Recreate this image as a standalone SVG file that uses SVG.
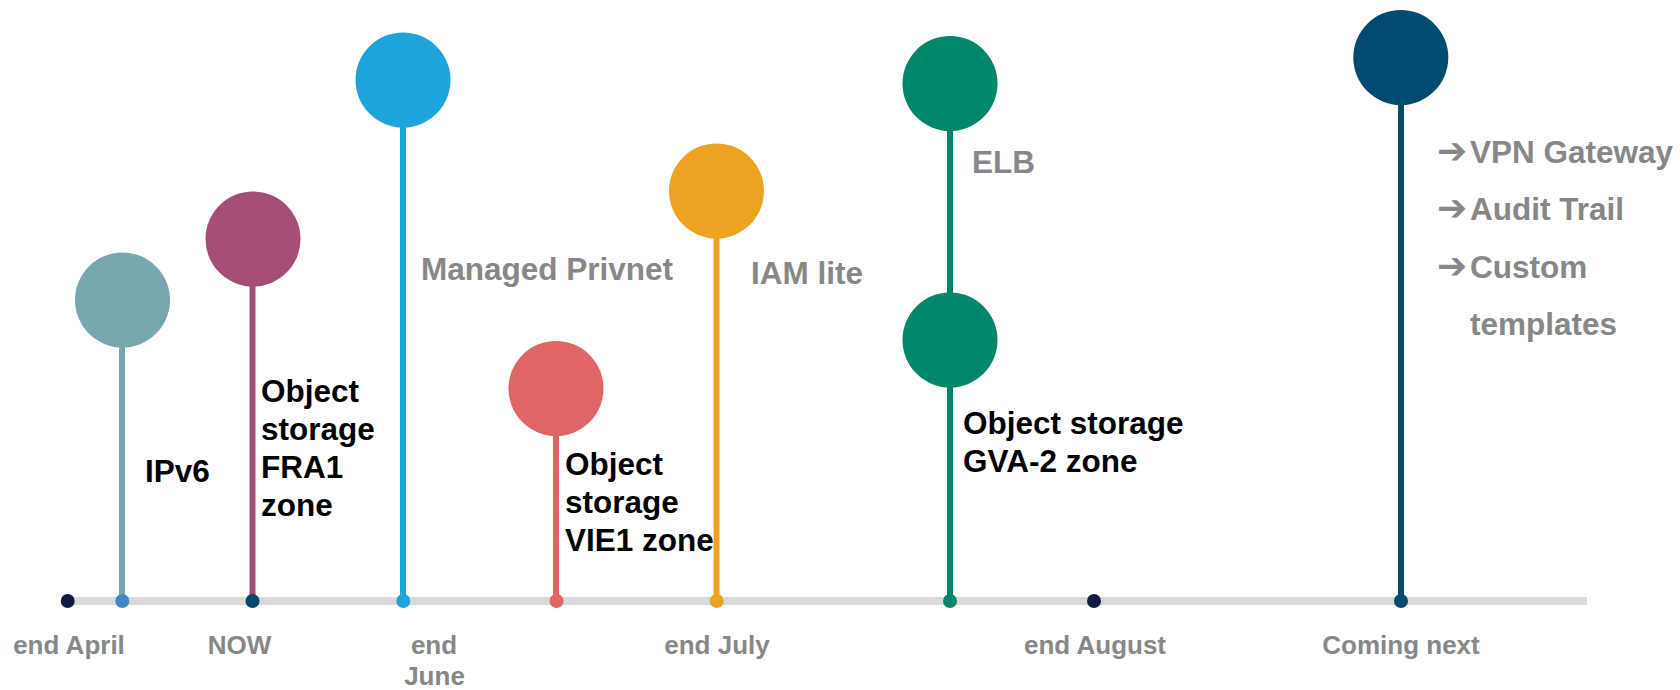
<svg xmlns="http://www.w3.org/2000/svg" width="1680" height="690" viewBox="0 0 1680 690">
<style>
.lbl{font-family:"Liberation Sans",Arial,sans-serif;font-weight:bold;font-size:31.5px;fill:#000}
.gry{font-family:"Liberation Sans",Arial,sans-serif;font-weight:bold;font-size:31.5px;fill:#878787}
.axis{font-family:"Liberation Sans",Arial,sans-serif;font-weight:bold;font-size:26px;fill:#878787;text-anchor:middle}
.arr{font-family:"DejaVu Sans",sans-serif;font-weight:bold;font-size:36px}
.stem{stroke-width:6;fill:none}
</style>
<rect width="1680" height="690" fill="#ffffff"/>
<g id="connectors">
<rect x="67" y="597" width="1520" height="8" fill="#d9d9d9"/>
<line class="stem" x1="122" y1="300" x2="122" y2="601" stroke="#77a6ae"/>
<line class="stem" x1="252.5" y1="239" x2="252.5" y2="601" stroke="#a44d75"/>
<line class="stem" x1="403" y1="80" x2="403" y2="601" stroke="#1fa3db"/>
<line class="stem" x1="556" y1="388" x2="556" y2="601" stroke="#e06666"/>
<line class="stem" x1="716.5" y1="191" x2="716.5" y2="601" stroke="#eda321"/>
<line class="stem" x1="950" y1="84" x2="950" y2="601" stroke="#00866a"/>
<line class="stem" x1="1401" y1="58" x2="1401" y2="601" stroke="#004b6f"/>
</g>
<g id="tick-april"><circle cx="67.7" cy="601" r="7" fill="#121a44"/><text class="axis" x="69" y="654">end April</text></g>
<g id="node-ipv6"><circle cx="122.5" cy="300" r="47.5" fill="#77a6ae"/><circle cx="122.3" cy="601" r="7" fill="#3f86c8"/><text class="lbl" x="145" y="482">IPv6</text></g>
<g id="node-fra1"><circle cx="253" cy="239" r="47.5" fill="#a44d75"/><circle cx="252.5" cy="601" r="7" fill="#004a70"/><text class="lbl" x="261" y="402"><tspan x="261" y="402">Object</tspan><tspan x="261" y="440">storage</tspan><tspan x="261" y="478">FRA1</tspan><tspan x="261" y="516">zone</tspan></text><text class="axis" x="239.5" y="654">NOW</text></g>
<g id="node-privnet"><circle cx="403" cy="80" r="47.5" fill="#1fa3db"/><circle cx="403.3" cy="601" r="7" fill="#1fa3db"/><text class="gry" x="421" y="280">Managed Privnet</text><text class="axis" x="434" y="654"><tspan x="434" y="654">end</tspan><tspan x="434.5" y="685">June</tspan></text></g>
<g id="node-vie1"><circle cx="556" cy="388.5" r="47.5" fill="#e06666"/><circle cx="556.5" cy="601" r="7" fill="#e06666"/><text class="lbl"><tspan x="565" y="475">Object</tspan><tspan x="565" y="513">storage</tspan><tspan x="565" y="551">VIE1 zone</tspan></text></g>
<g id="node-iam"><circle cx="716.5" cy="191" r="47.5" fill="#eda321"/><circle cx="716.7" cy="601" r="7" fill="#eda321"/><text class="gry" x="751" y="284">IAM lite</text><text class="axis" x="717" y="654">end July</text></g>
<g id="node-elb"><circle cx="950" cy="83.5" r="47.5" fill="#00866a"/><text class="gry" x="972" y="173">ELB</text></g>
<g id="node-gva2"><circle cx="950" cy="340" r="47.5" fill="#00866a"/><circle cx="950" cy="601" r="7" fill="#00866a"/><text class="lbl"><tspan x="963" y="434">Object storage</tspan><tspan x="963" y="472">GVA-2 zone</tspan></text></g>
<g id="tick-august"><circle cx="1094" cy="601" r="7" fill="#121a44"/><text class="axis" x="1095" y="654">end August</text></g>
<g id="node-next"><circle cx="1400.8" cy="57.5" r="47.5" fill="#004b6f"/><circle cx="1401" cy="601" r="7" fill="#004b6f"/>
<text class="gry"><tspan class="arr" x="1437" y="163">➔</tspan><tspan x="1470" y="163">VPN Gateway</tspan></text>
<text class="gry"><tspan class="arr" x="1437" y="220">➔</tspan><tspan x="1470" y="220">Audit Trail</tspan></text>
<text class="gry"><tspan class="arr" x="1437" y="278">➔</tspan><tspan x="1470" y="278">Custom</tspan></text>
<text class="gry" x="1470" y="335">templates</text>
<text class="axis" x="1401" y="654">Coming next</text></g>
</svg>
